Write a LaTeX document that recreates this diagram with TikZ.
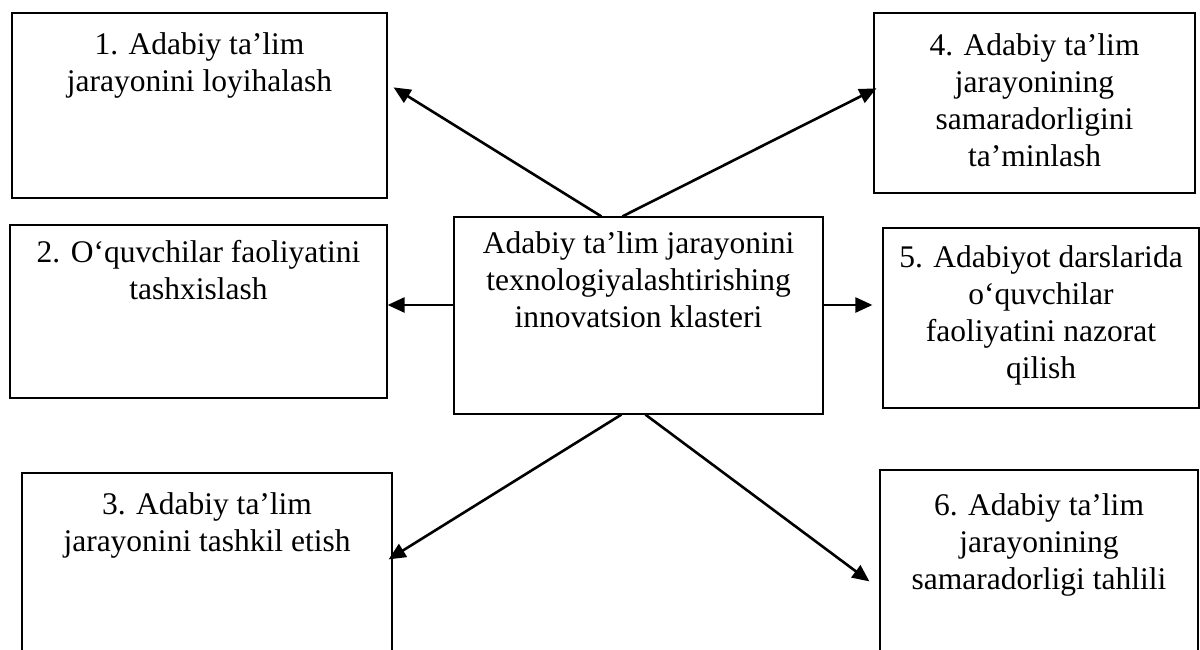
\documentclass[tikz,border=0pt]{standalone}
\usepackage{fontspec}
\setmainfont{Liberation Serif}
\usetikzlibrary{arrows.meta,calc}
\begin{document}
\begin{tikzpicture}[x=1pt,y=-1pt,
 box/.style={draw=black, line width=1.2pt, inner sep=0pt, rectangle},
 txt/.style={anchor=north, align=center, inner sep=0pt, font=\fontsize{31.5}{37}\selectfont},
 arr/.style={line width=2.6pt, -{Triangle[length=17pt,width=15pt]}}]
\useasboundingbox (0,0) rectangle (1200,650);
\clip (0,0) rectangle (1200,650);
% boxes
\node[box, minimum width=375pt, minimum height=185pt] (b1) at (199.5,105.5) {};
\node[box, minimum width=321pt, minimum height=180pt] (b4) at (1034.5,103) {};
\node[box, minimum width=377pt, minimum height=173pt] (b2) at (198.5,311.5) {};
\node[box, minimum width=369pt, minimum height=197pt] (c) at (638.5,315.5) {};
\node[box, minimum width=316pt, minimum height=180pt] (b5) at (1041,318) {};
\node[box, minimum width=370pt, minimum height=247pt] (b3) at (207,596.5) {};
\node[box, minimum width=318pt, minimum height=250pt] (b6) at (1039,595) {};
% texts
\node[txt, yshift=-20.5pt] (t1) at (b1.north) {1. Adabiy ta’lim\\jarayonini loyihalash};
\node[txt, yshift=-21pt] (t4) at (b4.north) {4. Adabiy ta’lim\\jarayonining\\samaradorligini\\ta’minlash};
\node[txt, yshift=-16pt] (t2) at (b2.north) {2. O‘quvchilar faoliyatini\\tashxislash};
\node[txt, yshift=-15.5pt] (tc) at (c.north) {Adabiy ta’lim jarayonini\\texnologiyalashtirishing\\innovatsion klasteri};
\node[txt, yshift=-18.5pt] (t5) at (b5.north) {5. Adabiyot darslarida\\o‘quvchilar\\faoliyatini nazorat\\qilish};
\node[txt, yshift=-20.5pt] (t3) at (b3.north) {3. Adabiy ta’lim\\jarayonini tashkil etish};
\node[txt, yshift=-24pt] (t6) at (b6.north) {6. Adabiy ta’lim\\jarayonining\\samaradorligi tahlili};
% connectors
\draw[arr] ($(c.north west)+(148,0)$) -- ($(b1.north east)+(6,75)$);
\draw[arr] ($(c.north west)+(169,0)$) -- ($(b4.north west)+(3,76)$);
\draw[arr] ($(c.west)+(0,-10.5)$) -- ($(b2.east)+(0,-6.5)$);
\draw[arr] ($(c.east)+(0,-10.5)$) -- ($(b5.west)+(-10,-13)$);
\draw[arr] ($(c.south west)+(168,0)$) -- ($(b3.north east)+(-4,87)$);
\draw[arr] ($(c.south west)+(192,0)$) -- ($(b6.north west)+(-10,112)$);
\end{tikzpicture}
\end{document}
